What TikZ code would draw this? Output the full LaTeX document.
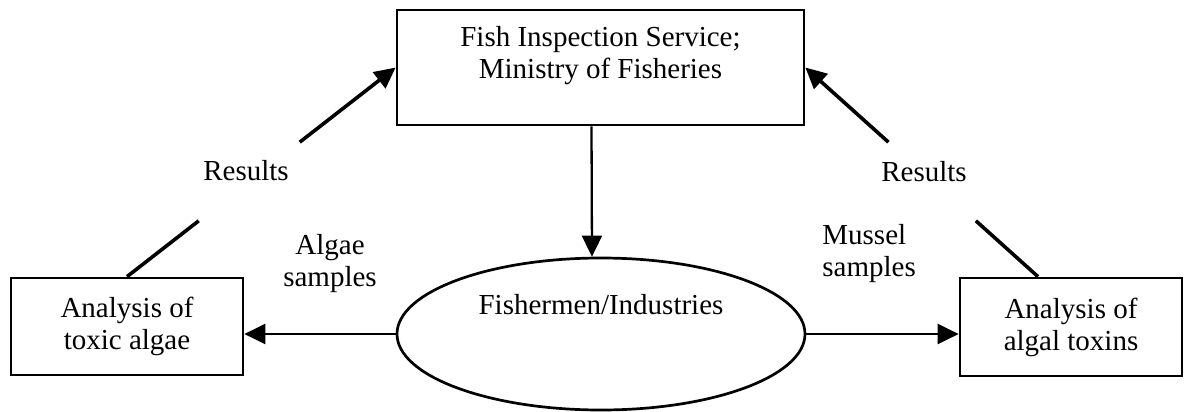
\documentclass[tikz,border=0pt]{standalone}
\usepackage{fontspec}
\setmainfont{Liberation Serif}
\usetikzlibrary{arrows.meta,calc,positioning,shapes.geometric}

\begin{document}
\begin{tikzpicture}[x=0.5pt, y=-0.5pt, >={Triangle[length=10.5pt,width=10pt]},
    font=\fontsize{14.5}{16}\selectfont,
    box/.style={draw, line width=1.35pt, align=center, inner sep=0pt},
    oval/.style={ellipse, draw, line width=1.35pt, inner sep=0pt},
    lbl/.style={align=center, inner sep=0pt},
    flow/.style={->, line width=1.15pt},
    back/.style={line width=1.8pt}]
    \useasboundingbox (0,0) rectangle (1184,412);
    \node[box, minimum width=203.5pt, minimum height=57.5pt] (fis) at (600.5,67.5) {};
    \node[lbl, below=8.5pt of fis.north] (fistxt) {Fish Inspection Service;\\ Ministry of Fisheries};
    \node[oval, minimum width=204pt, minimum height=76pt] (fish) at (601,334) {};
    \node[lbl, below=18.5pt of fish.north] (fishtxt) {Fishermen/Industries};
    \node[box, minimum width=116pt, minimum height=48.5pt] (alg) at (127,326.5) {Analysis of\\ toxic algae};
    \node[box, minimum width=111pt, minimum height=49pt] (tox) at (1071,327) {Analysis of\\ algal toxins};
    \node[lbl] (res1) at (246,171) {Results};
    \node[lbl] (res2) at (924,172) {Results};
    \node[lbl] (asmp) at (330,264) {Algae\\ samples};
    \node[lbl, align=left, anchor=west] (msmp) at (822,254) {Mussel\\ samples};
    \coordinate (tr) at ([xshift=-16.5pt]tox.north);
    \draw[flow] ([xshift=-4.5pt]fis.south) -- ([xshift=-4.5pt]fish.north);
    \draw[flow] (fish.west) -- (fish.west -| alg.east);
    \draw[flow] (fish.east) -- (fish.east -| tox.west);
    \draw[back] (alg.north) -- ($(alg.north)!0.267!(fis.west)$);
    \draw[back, ->] ($(alg.north)!0.643!(fis.west)$) -- (fis.west);
    \draw[back] (tr) -- ($(tr)!0.267!(fis.east)$);
    \draw[back, ->] ($(tr)!0.643!(fis.east)$) -- (fis.east);
\end{tikzpicture}
\end{document}
